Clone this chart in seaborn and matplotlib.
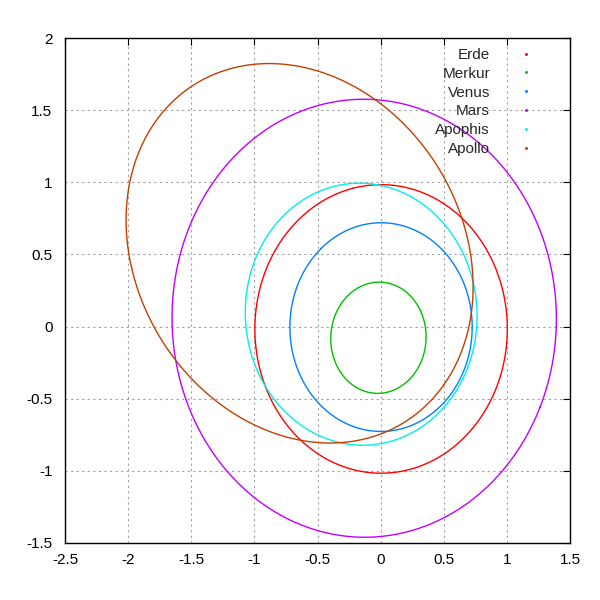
import numpy as np
import pandas as pd
import matplotlib
matplotlib.use("Agg")
import matplotlib.pyplot as plt
import seaborn as sns

# Orbital elements read/estimated for each body
names = ["Erde", "Merkur", "Venus", "Mars", "Apophis", "Apollo"]
semi_major = [1.0000, 0.3871, 0.7233, 1.5237, 0.9224, 1.4700]        # AU
eccentricity = [0.0167, 0.2056, 0.0068, 0.0934, 0.1912, 0.5600]
inclination = [0.0, 7.005, 3.39, 1.850, 3.339, 6.35]                 # deg
asc_node = [0.0, 48.331, 76.68, 49.558, 204.43, 35.55]               # deg
arg_peri = [102.94, 29.124, 54.88, 286.502, 126.42, 286.0]           # deg
colors = ["#ff0000", "#00c000", "#0080ff", "#c000ff", "#00eeee", "#c04000"]

x_ticks = [-2.5, -2, -1.5, -1, -0.5, 0, 0.5, 1, 1.5]
y_ticks = [-1.5, -1, -0.5, 0, 0.5, 1, 1.5, 2]

frames = []
nu = np.linspace(0, 2 * np.pi, 1500)
for n, a, e, i, O, w in zip(names, semi_major, eccentricity, inclination, asc_node, arg_peri):
    i, O, w = np.radians([i, O, w])
    r = a * (1 - e ** 2) / (1 + e * np.cos(nu))
    u = w + nu
    x = r * (np.cos(O) * np.cos(u) - np.sin(O) * np.sin(u) * np.cos(i))
    y = r * (np.sin(O) * np.cos(u) + np.cos(O) * np.sin(u) * np.cos(i))
    frames.append(pd.DataFrame({"x": x, "y": y, "body": n, "k": np.arange(len(nu))}))
df = pd.concat(frames, ignore_index=True)

sns.set_style("white")
plt.rcParams["font.family"] = ["Liberation Sans", "DejaVu Sans"]
plt.rcParams["axes.unicode_minus"] = False

fig = plt.figure(figsize=(6, 6), dpi=100)
ax = fig.add_axes([65 / 600, 1 - 543 / 600, 505 / 600, 505 / 600])

sns.lineplot(data=df, x="x", y="y", hue="body", hue_order=names,
             palette=colors, sort=False, estimator=None, units="body",
             lw=1.0, legend=False, ax=ax)

ax.set_xlim(-2.5, 1.5)
ax.set_ylim(-1.5, 2)
ax.set_xticks(x_ticks)
ax.set_yticks(y_ticks)
ax.set_xticklabels([f"{t:g}" for t in x_ticks])
ax.set_yticklabels([f"{t:g}" for t in y_ticks])
ax.set_xlabel("")
ax.set_ylabel("")
ax.grid(True, color="#a0a0a0", linestyle=(0, (2, 3)), linewidth=0.8)
ax.set_axisbelow(True)
ax.tick_params(direction="in", length=5, width=0.8, top=True, right=True,
               labelsize=11, colors="black")
ax.tick_params(axis="x", pad=7)
ax.tick_params(axis="y", pad=9)
for s in ax.spines.values():
    s.set_color("black")
    s.set_linewidth(1.0)

# gnuplot-style key: right-aligned text followed by a dot sample
for k, (n, c) in enumerate(zip(names, colors)):
    ypx = 53.5 + k * 18.8
    yax = (543 - ypx) / 505
    ax.text((490 - 65) / 505, yax, n, ha="right", va="center_baseline", fontsize=11,
            transform=ax.transAxes)
    ax.plot([(526 - 65) / 505], [yax], marker="s", markersize=1.0, color=c,
            linestyle="none", transform=ax.transAxes)

fig.savefig("out.png", dpi=100)
